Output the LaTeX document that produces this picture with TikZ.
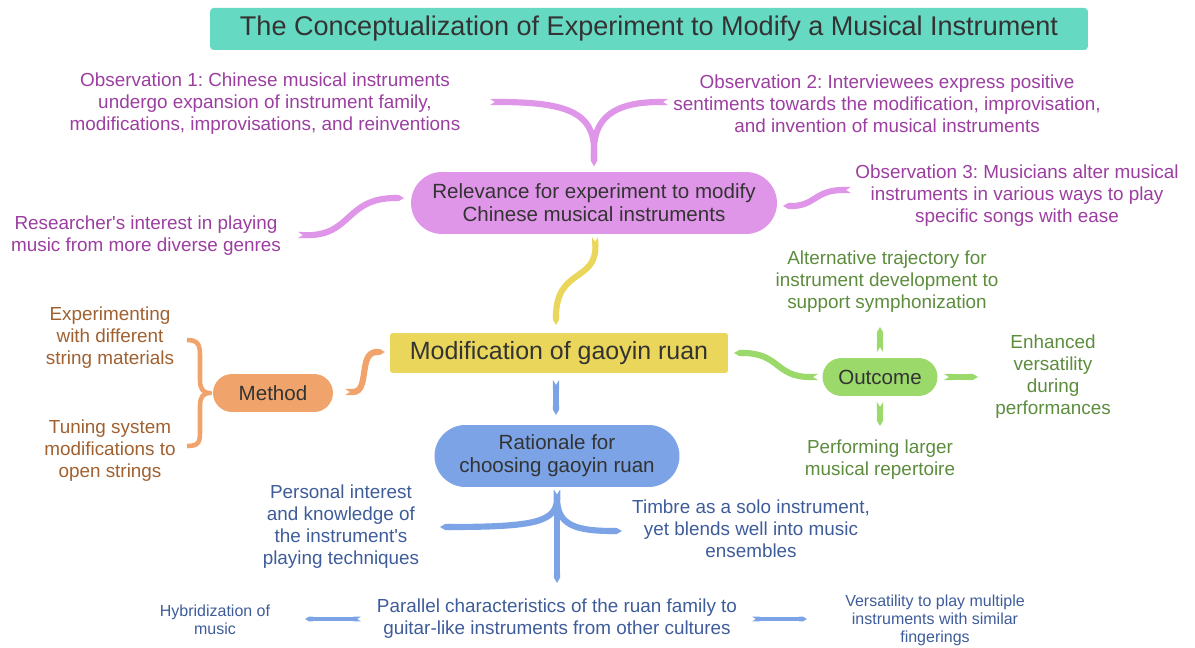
\documentclass[tikz,border=0pt]{standalone}
\usepackage{fontspec}
\setmainfont{Liberation Sans}
\usetikzlibrary{arrows.meta}

\definecolor{teal}{HTML}{66D9C2}
\definecolor{pinkfill}{HTML}{E096E8}
\definecolor{purpletext}{HTML}{9B3EA0}
\definecolor{yellowfill}{HTML}{E9D65A}
\definecolor{bluefill}{HTML}{7BA3E6}
\definecolor{bluetext}{HTML}{3E5C9A}
\definecolor{orangefill}{HTML}{F0A46C}
\definecolor{orangetext}{HTML}{A0602F}
\definecolor{greenfill}{HTML}{9BD96A}
\definecolor{greentext}{HTML}{5C8C3C}
\definecolor{nodetext}{HTML}{333333}

\begin{document}
\frenchspacing
\begin{tikzpicture}[x=0.02cm, y=-0.02cm,
  every node/.style={inner sep=0pt, outer sep=0pt},
  pill/.style={align=center, text=nodetext, font=\fontsize{11.7}{13}\selectfont},
  leaf/.style={align=center, font=\fontsize{10.75}{12.5}\selectfont},
  smallleaf/.style={align=center, font=\fontsize{9.1}{10.2}\selectfont},
  ribbon/.style={line width=3.5pt, {Triangle Cap[reversed,length=2.8pt]}-{Triangle Cap[length=3pt]}},
  thinribbon/.style={line width=2.8pt, {Triangle Cap[reversed,length=2.2pt]}-{Triangle Cap[length=2.4pt]}},
]
\useasboundingbox (0,0) rectangle (1195,648);

% ---------- title ----------
\node[fill=teal, rounded corners=2pt, minimum width=17.56cm, minimum height=0.84cm,
      text=nodetext, font=\fontsize{15.4}{17}\selectfont] (title) at (649,29)
  {The Conceptualization of Experiment to Modify a Musical Instrument};

% ---------- main nodes ----------
\node[pill, fill=pinkfill, minimum width=7.32cm, minimum height=1.24cm, rounded corners=0.62cm] (rel) at (594,203)
  {Relevance for experiment to modify\\Chinese musical instruments};
\node[pill, fill=yellowfill, minimum width=6.76cm, minimum height=0.8cm, rounded corners=1.5pt,
      font=\fontsize{14.2}{16}\selectfont] (mod) at (559,353) {Modification of gaoyin ruan};
\node[pill, fill=bluefill, minimum width=4.9cm, minimum height=1.24cm, rounded corners=0.62cm] (rat) at (557,456)
  {Rationale for\\choosing gaoyin ruan};
\node[pill, fill=orangefill, minimum width=2.4cm, minimum height=0.76cm, rounded corners=0.38cm] (method) at (273,393) {Method};
\node[pill, fill=greenfill, minimum width=2.3cm, minimum height=0.76cm, rounded corners=0.38cm] (outcome) at (880,377) {Outcome};

% ---------- leaf texts ----------
\node[leaf, text=purpletext] (obs1) at (265,104)
  {Observation 1: Chinese musical instruments\\undergo expansion of instrument family,\\modifications, improvisations, and reinventions};
\node[leaf, text=purpletext] (obs2) at (887,104)
  {Observation 2: Interviewees express positive\\sentiments towards the modification, improvisation,\\and invention of musical instruments};
\node[leaf, text=purpletext] (obs3) at (1017,196)
  {Observation 3: Musicians alter musical\\instruments in various ways to play\\specific songs with ease};
\node[leaf, text=purpletext] (interest) at (146,236)
  {Researcher\textquotesingle s interest in playing\\music from more diverse genres};

\node[leaf, text=orangetext] (exper) at (110,338) {Experimenting\\with different\\string materials};
\node[leaf, text=orangetext] (tuning) at (110,451) {Tuning system\\modifications to\\open strings};

\node[leaf, text=greentext] (altern) at (887,282)
  {Alternative trajectory for\\instrument development to\\support symphonization};
\node[leaf, text=greentext] (enhanced) at (1053,377) {Enhanced\\versatility\\during\\performances};
\node[leaf, text=greentext] (perform) at (880,460) {Performing larger\\musical repertoire};

\node[leaf, text=bluetext] (personal) at (341,527)
  {Personal interest\\and knowledge of\\the instrument\textquotesingle s\\playing techniques};
\node[leaf, text=bluetext] (timbre) at (751,529)
  {Timbre as a solo instrument,\\yet blends well into music\\ensembles};
\node[leaf, text=bluetext] (parallel) at (557,619)
  {Parallel characteristics of the ruan family to\\guitar-like instruments from other cultures};
\node[smallleaf, text=bluetext] (hybrid) at (215,620) {Hybridization of\\music};
\node[smallleaf, text=bluetext] (versat) at (935,620)
  {Versatility to play multiple\\instruments with similar\\fingerings};

% ---------- connector end points ----------
\coordinate (relTop) at (594,166);
\coordinate (obs1End) at (490,102);
\coordinate (obs2End) at (668,102);
\coordinate (relRight) at (783,206);
\coordinate (obs3End) at (851,190);
\coordinate (relLeft) at (404,198);
\coordinate (interestEnd) at (298,235);
\coordinate (relBottom) at (595,237);
\coordinate (modTop) at (556,325);
\coordinate (modBottom) at (556,380);
\coordinate (ratTop) at (556,415);
\coordinate (modLeft) at (385,352);
\coordinate (methodRight) at (345,392);
\coordinate (modRight) at (734,353);
\coordinate (outLeft) at (818,377);
\coordinate (outUpA) at (880,352);
\coordinate (outUpB) at (880,327);
\coordinate (outDnA) at (880,402);
\coordinate (outDnB) at (880,426);
\coordinate (outRtA) at (944,377);
\coordinate (outRtB) at (978,377);
\coordinate (ratBottom) at (557,490);
\coordinate (stemEnd) at (557,583);
\coordinate (personalEnd) at (440,527);
\coordinate (timbreEnd) at (622,531);
\coordinate (hybridA) at (361,619);
\coordinate (hybridB) at (305,619);
\coordinate (versatA) at (752,619);
\coordinate (versatB) at (807,619);

% ---------- pink connectors ----------
\draw[ribbon, pinkfill] (obs1End) .. controls (565,102) and (594,112) .. (594,150) -- (relTop);
\draw[ribbon, pinkfill] (obs2End) .. controls (623,102) and (594,112) .. (594,150) -- (relTop);
\draw[ribbon, pinkfill] (obs3End) .. controls (815,190) and (815,206) .. (relRight);
\draw[ribbon, pinkfill] (interestEnd) .. controls (352,236) and (345,198) .. (relLeft);

% ---------- yellow connector ----------
\draw[ribbon, yellowfill] (relBottom) .. controls (597,282) and (556,268) .. (modTop);

% ---------- orange connectors ----------
\draw[ribbon, orangefill] (methodRight) .. controls (370,392) and (358,352) .. (modLeft);
\draw[orangefill, line width=2.6pt, line join=round]
  (187,340) .. controls (199,340) and (200,346) .. (200,356) -- (200,380)
  .. controls (200,389) and (203,393) .. (210,393)
  .. controls (203,393) and (200,397) .. (200,406) -- (200,432)
  .. controls (200,442) and (199,446) .. (187,446);

% ---------- green connectors ----------
\draw[ribbon, greenfill] (outLeft) .. controls (775,377) and (780,353) .. (modRight);
\draw[ribbon, greenfill] (outUpA) -- (outUpB);
\draw[ribbon, greenfill] (outDnA) -- (outDnB);
\draw[ribbon, greenfill] (outRtA) -- (outRtB);

% ---------- blue connectors ----------
\draw[ribbon, bluefill] (modBottom) -- (ratTop);
\draw[ribbon, bluefill] (ratBottom) -- (stemEnd);
\draw[ribbon, bluefill] (ratBottom) .. controls (557,522) and (535,527) .. (personalEnd);
\draw[ribbon, bluefill] (ratBottom) .. controls (557,525) and (575,531) .. (timbreEnd);
\draw[thinribbon, bluefill] (hybridA) -- (hybridB);
\draw[thinribbon, bluefill] (versatA) -- (versatB);
\end{tikzpicture}
\end{document}
